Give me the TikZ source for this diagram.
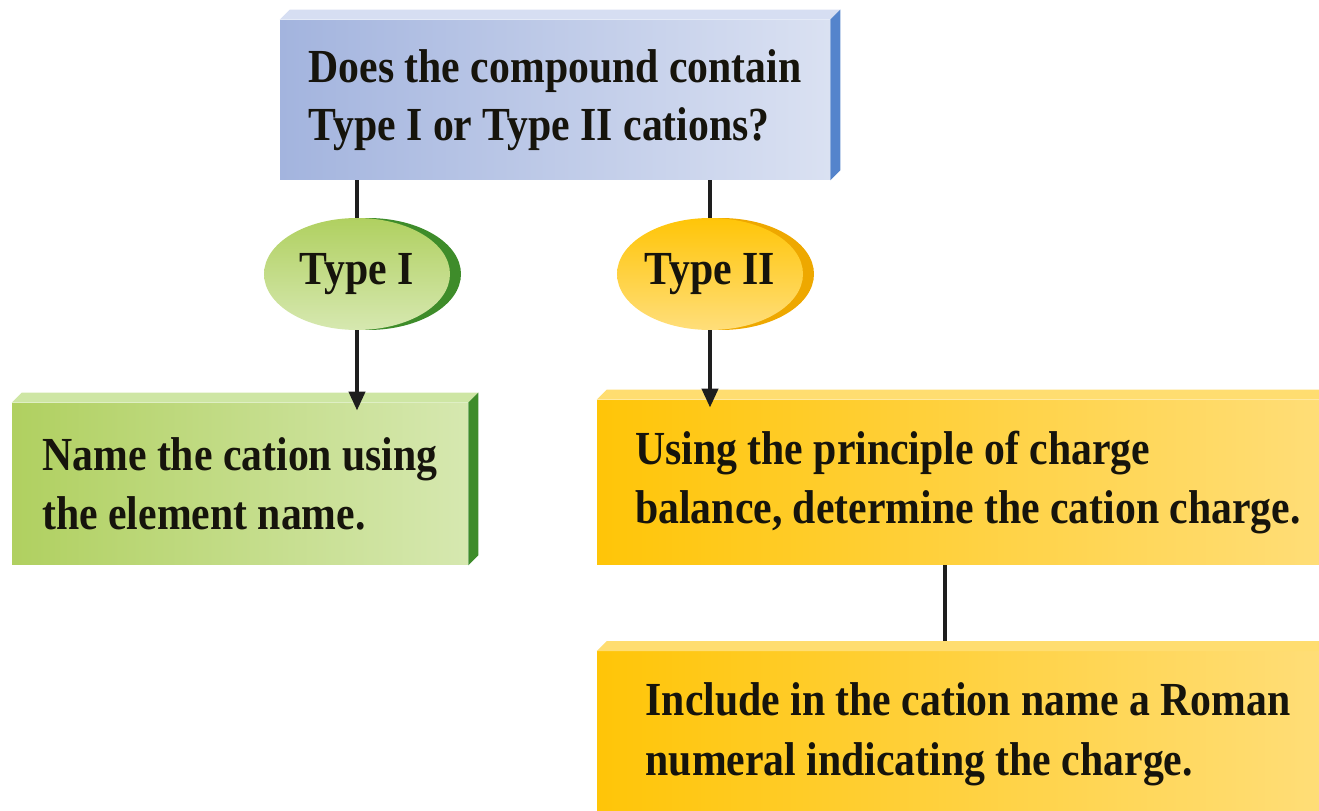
\documentclass[tikz,border=0pt]{standalone}
\usepackage{fontspec}
\setmainfont{Liberation Serif}[FakeStretch=0.88]
\usetikzlibrary{shapes.geometric,arrows.meta}

\definecolor{ink}{RGB}{22,20,12}
\definecolor{wire}{RGB}{30,30,30}
\definecolor{blueL}{RGB}{163,180,222}
\definecolor{blueR}{RGB}{218,225,242}
\definecolor{blueTop}{RGB}{214,222,242}
\definecolor{blueSide}{RGB}{84,132,204}
\definecolor{greenL}{RGB}{176,208,96}
\definecolor{greenR}{RGB}{214,232,176}
\definecolor{greenTop}{RGB}{206,230,164}
\definecolor{greenSide}{RGB}{62,140,42}
\definecolor{yellowL}{RGB}{255,197,8}
\definecolor{yellowR}{RGB}{255,222,122}
\definecolor{yellowTop}{RGB}{255,221,112}
\definecolor{yellowSide}{RGB}{238,168,0}

\tikzset{
  panel/.style={rectangle, inner sep=0pt, align=left, text=ink},
  badge/.style={ellipse, inner sep=0pt, minimum width=3.72cm, minimum height=2.24cm, text=ink},
  link/.style={draw=wire, line width=0.08cm},
  arrowlink/.style={link, -{Triangle[length=0.38cm,width=0.32cm]}, shorten >=-4.5pt}
}

% top face and right face of a slab
\newcommand{\slabfaces}[3]{%
  \fill[#2] (#1.north west) -- ++(10,-10) -- ([shift={(10,-10)}]#1.north east) -- (#1.north east) -- cycle;
  \fill[#3] (#1.north east) -- ([shift={(10,-10)}]#1.north east) -- ([shift={(10,-10)}]#1.south east) -- (#1.south east) -- cycle;
}

\begin{document}
\begin{tikzpicture}[x=0.02cm,y=-0.02cm,font=\fontsize{27}{34}\selectfont\bfseries]
\useasboundingbox (0,0) rectangle (1319,811);
\clip (0,0) rectangle (1319,811);

\node[panel, minimum width=11cm, minimum height=3.2cm, left color=blueL, right color=blueR] (question) at (555,100)
  {Does the compound contain\\[-1pt]Type I or Type II cations?};
\slabfaces{question}{blueTop}{blueSide}

\node[badge, fill=greenSide] (typeIrim) at (368,274) {};
\node[badge, top color=greenL, bottom color=greenR] (typeI) at (357,274) {Type I};
\node[badge, fill=yellowSide] (typeIIrim) at (721,274) {};
\node[badge, top color=yellowL, bottom color=yellowR] (typeII) at (710,274) {Type II};

\node[panel, minimum width=9.12cm, minimum height=3.24cm, left color=greenL, right color=greenR] (nameI) at (240,484)
  {Name the cation using\\the element name.};
\slabfaces{nameI}{greenTop}{greenSide}

\node[panel, minimum width=14.84cm, minimum height=3.3cm, left color=yellowL, right color=yellowR] (balance) at (968,482.5)
  {Using the principle of charge\\balance, determine the cation charge.};
\slabfaces{balance}{yellowTop}{yellowSide}

\node[panel, minimum width=14.84cm, minimum height=3.3cm, left color=yellowL, right color=yellowR] (roman) at (968,734)
  {Include in the cation name a Roman\\numeral indicating the charge.};
\slabfaces{roman}{yellowTop}{yellowSide}

\draw[link] (typeI.north |- question.south) -- (typeI.north);
\draw[link] (typeII.north |- question.south) -- (typeII.north);
\draw[arrowlink] (typeI.south) -- (typeI.south |- nameI.north);
\draw[arrowlink] (typeII.south) -- (typeII.south |- balance.north);
\draw[link] ([xshift=-0.46cm]balance.south) -- ([xshift=-0.46cm,yshift=0.2cm]roman.north);
\end{tikzpicture}
\end{document}
